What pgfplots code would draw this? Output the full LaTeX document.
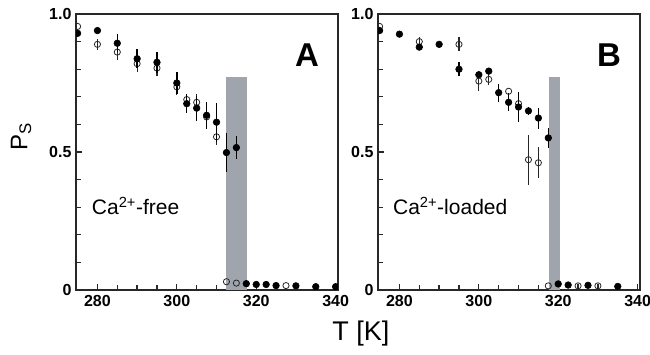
\documentclass[border=0pt]{standalone}
\usepackage{fontspec}
\setmainfont{Liberation Sans}
\usepackage{pgfplots}
\usepackage{pgfplotstable}
\pgfplotsset{compat=1.18}
\definecolor{bandgray}{RGB}{160,164,172}
\definecolor{framec}{RGB}{40,40,40}

\pgfplotstableread{
x y e
275 0.93 0
280 0.94 0
285 0.894 0.033
290 0.838 0.035
295 0.825 0.038
300 0.75 0.04
302.5 0.675 0.035
305 0.659 0.045
307.5 0.633 0.048
310 0.608 0.07
312.5 0.498 0.072
315 0.516 0.042
317.5 0.023 0
320 0.02 0
322.5 0.02 0
325 0.016 0
330 0.015 0
335 0.012 0
340 0.012 0
}\Afill
\pgfplotstableread{
x y e
275 0.955 0
280 0.89 0.02
285 0.862 0.03
290 0.82 0.03
295 0.804 0.03
300 0.736 0.03
302.5 0.69 0.02
305 0.68 0.03
307.5 0.627 0.03
310 0.555 0.03
312.5 0.03 0
315 0.025 0
327.5 0.016 0
}\Aopen
\pgfplotstableread{
x y e
275 0.94 0
280 0.927 0
285 0.88 0
290 0.89 0
295 0.80 0.025
300 0.78 0
302.5 0.793 0
305 0.715 0.033
307.5 0.68 0.033
310 0.663 0.055
312.5 0.649 0.015
315 0.623 0.038
317.5 0.551 0.037
320 0.022 0
322.5 0.018 0
327.5 0.017 0
335 0.013 0
}\Bfill
\pgfplotstableread{
x y e
275 0.955 0
285 0.90 0.015
295 0.89 0.025
300 0.757 0.035
302.5 0.763 0.02
307.5 0.72 0
310 0.675 0.03
312.5 0.472 0.09
315 0.461 0.056
317.5 0.015 0
325 0.015 0.008
330 0.015 0.008
}\Bopen

\pgfplotsset{
  panel/.style={
    scale only axis, width=262pt, height=276pt,
    xmin=274.6, xmax=340.6, ymin=0, ymax=1,
    axis line style={line width=2.8pt, framec},
    xtick={280,300,320,340}, xticklabels={280,300,320,340},
    minor xtick={285,290,295,305,310,315,325,330,335},
    ytick={0,0.5,1}, yticklabels={0,0.5,1.0},
    minor ytick={0.1,0.2,0.3,0.4,0.6,0.7,0.8,0.9},
    tick pos=left, tick align=inside,
    major tick length=6pt, minor tick length=5pt,
    every tick/.style={line width=1.3pt, framec},
    ticklabel style={font=\bfseries\fontsize{16}{16}\selectfont, text=black},
    xticklabel style={yshift=-2pt},
    yticklabel style={xshift=-1pt},
    clip marker paths=true,
  },
  fillpts/.style={only marks, mark=*, mark size=3.3pt, black,
    mark options={fill=black, draw=black, line width=0.6pt},
    error bars/.cd, y dir=both, y explicit, error mark=none,
    error bar style={line width=1.4pt, black}},
  openpts/.style={only marks, mark=o, mark size=3.1pt, black,
    mark options={fill=white, draw=black!85, line width=0.8pt},
    error bars/.cd, y dir=both, y explicit, error mark=none,
    error bar style={line width=1.2pt, black!85}},
}

\begin{document}
\begin{tikzpicture}
\useasboundingbox (0,0) rectangle (650pt,354pt);
\begin{axis}[panel, at={(76pt,64pt)}, anchor=south west,
  ylabel={P\textsubscript{S}},
  ylabel style={at={(axis description cs:-0.21,0.555)}, anchor=center, font=\fontsize{24}{24}\selectfont},
  xlabel={T [K]},
  xlabel style={at={(axis description cs:1.087,-0.156)}, anchor=center, font=\fontsize{27}{27}\selectfont},
]
\addplot[fill=bandgray, draw=none] coordinates {(312.5,0) (312.5,0.77) (317.8,0.77) (317.8,0)} -- cycle;
\addplot[openpts] table[x=x, y=y, y error=e] {\Aopen};
\addplot[fillpts] table[x=x, y=y, y error=e] {\Afill};
\node[font=\bfseries\fontsize{33}{33}\selectfont, anchor=center] at (axis description cs:0.882,0.851) {A};
\node[font=\fontsize{21}{21}\selectfont, anchor=base west, inner sep=0pt] at (axis description cs:0.06,0.272) {Ca\textsuperscript{2+}-free};
\end{axis}
\begin{axis}[panel, at={(378pt,64pt)}, anchor=south west]
\addplot[fill=bandgray, draw=none] coordinates {(317.6,0) (317.6,0.77) (320.4,0.77) (320.4,0)} -- cycle;
\addplot[openpts] table[x=x, y=y, y error=e] {\Bopen};
\addplot[fillpts] table[x=x, y=y, y error=e] {\Bfill};
\node[font=\bfseries\fontsize{33}{33}\selectfont, anchor=center] at (axis description cs:0.882,0.851) {B};
\node[font=\fontsize{21}{21}\selectfont, anchor=base west, inner sep=0pt] at (axis description cs:0.057,0.272) {Ca\textsuperscript{2+}-loaded};
\end{axis}
\end{tikzpicture}
\end{document}
